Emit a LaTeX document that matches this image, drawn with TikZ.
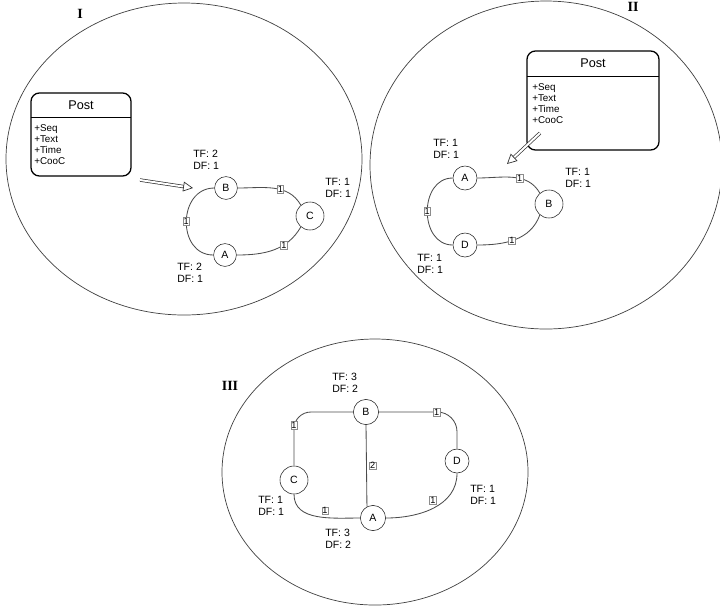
\documentclass[tikz,border=0pt]{standalone}
\usepackage{fontspec}
\setmainfont{Liberation Sans}
\newfontfamily\numfont{Liberation Serif}
\usetikzlibrary{arrows.meta}

\tikzstyle{ring}=[draw=black!75,line width=0.5pt]
\tikzstyle{numeral}=[font=\numfont\bfseries\fontsize{10}{12}\selectfont]
\tikzstyle{vert}=[circle,draw=black!85,fill=white,inner sep=0pt,minimum size=0.6cm,font=\fontsize{7.5}{9}\selectfont]
\tikzstyle{bigvert}=[vert,minimum size=0.7cm]
\tikzstyle{link}=[draw=black!70,line width=0.6pt]
\tikzstyle{wt}=[sharp corners,draw=black!45,fill=white,inner sep=0.5pt,line width=0.3pt,font=\fontsize{6.5}{6.5}\selectfont]
\tikzstyle{freq}=[anchor=west,align=left,inner sep=0pt,font=\fontsize{7.5}{8.6}\selectfont]
\tikzstyle{postbox}=[draw=black,line width=0.9pt,rounded corners=6pt]
\tikzstyle{posthead}=[inner sep=0pt,font=\fontsize{9}{11}\selectfont]
\tikzstyle{attrs}=[anchor=north west,align=left,inner sep=0pt,font=\fontsize{7}{8}\selectfont]
\tikzstyle{hollow}=[draw=black!80,line width=0.5pt,double=white,double distance=1.4pt,-{Triangle[open,length=7pt,width=7pt]}]

\begin{document}
\begin{tikzpicture}[x=0.025cm,y=-0.025cm]
	\useasboundingbox (0,0) rectangle (720,608);

	% the three snapshots
	\draw[ring] (184,159) ellipse [x radius=178,y radius=156];
	\draw[ring] (546,165) ellipse [x radius=176,y radius=164];
	\draw[ring] (375,472) ellipse [x radius=153,y radius=133];
	\node (n1) at (80,14) [numeral] {I};
	\node (n2) at (633,7) [numeral] {II};
	\node (n3) at (230,386) [numeral] {III};

	% snapshot I
	\node (post1) at (81,134.5) [postbox,minimum width=2.5cm,minimum height=2.075cm] {};
	\node (head1) at (81,105) [posthead,minimum width=2.5cm,minimum height=0.6cm] {Post};
	\draw[line width=0.6pt] (head1.south west) -- (head1.south east);
	\node (attr1) at (34,124) [attrs] {+Seq\\+Text\\+Time\\+CooC};
	\coordinate (t1) at (140,180);
	\coordinate (h1) at (193,188);
	\draw[hollow] (t1) -- (h1);

	\node (B1) at (226,188) [vert,minimum size=0.57cm] {B};
	\node (C1) at (310,216) [bigvert] {C};
	\node (A1) at (225,255) [vert,minimum size=0.57cm] {A};
	\draw[link] (B1.east) to[out=0,in=120] node[wt,pos=0.6] {1} (C1.130);
	\draw[link] (A1.east) to[out=0,in=-120] node[wt,pos=0.66] {1} (C1.-130);
	\draw[link] (B1.west) to[out=180,in=180,looseness=1.4] node[wt] {1} (A1.west);
	\node (fB1) at (193,160) [freq] {TF: 2\\DF: 1};
	\node (fA1) at (177,273) [freq] {TF: 2\\DF: 1};
	\node (fC1) at (325,188) [freq] {TF: 1\\DF: 1};

	% snapshot II
	\node (post2) at (593,100.5) [postbox,minimum width=3.3cm,minimum height=2.475cm] {};
	\node (head2) at (593,63.5) [posthead,minimum width=3.3cm,minimum height=0.625cm] {Post};
	\draw[line width=0.6pt] (head2.south west) -- (head2.south east);
	\node (attr2) at (532,83) [attrs] {+Seq\\+Text\\+Time\\+CooC};
	\coordinate (t2) at (540,133);
	\coordinate (h2) at (507,164);
	\draw[hollow] (t2) -- (h2);

	\node (A2) at (465,178) [vert] {A};
	\node (B2) at (549,204) [bigvert] {B};
	\node (D2) at (465,245) [vert] {D};
	\draw[link] (A2.east) to[out=0,in=120] node[wt,pos=0.6] {1} (B2.130);
	\draw[link] (D2.east) to[out=0,in=-110] node[wt,pos=0.45] {1} (B2.-130);
	\draw[link] (A2.west) to[out=180,in=180,looseness=1.3] node[wt] {1} (D2.west);
	\node (fA2) at (433,149) [freq] {TF: 1\\DF: 1};
	\node (fB2) at (565,178) [freq] {TF: 1\\DF: 1};
	\node (fD2) at (417,264) [freq] {TF: 1\\DF: 1};

	% snapshot III
	\node (B3) at (366,412) [vert,minimum size=0.63cm] {B};
	\node (D3) at (457,461) [vert] {D};
	\node (C3) at (294,480) [bigvert] {C};
	\node (A3) at (373,518) [vert,minimum size=0.63cm] {A};
	\draw[link,rounded corners=12pt] (C3.north) |- node[wt,pos=0.38] {1} (B3.west);
	\draw[link,rounded corners=14pt] (B3.east) -| node[wt,pos=0.37] {1} (D3.north);
	\draw[link] (B3.south) -- node[wt,right=2pt] {2} (A3.118);
	\draw[link] (C3.south) to[out=-90,in=180] node[wt,pos=0.6,above=2pt] {1} (A3.west);
	\draw[link] (A3.east) to[out=0,in=-90] node[wt,pos=0.55,above left=1pt] {1} (D3.south);
	\node (fB3) at (332,383) [freq] {TF: 3\\DF: 2};
	\node (fC3) at (258,506) [freq] {TF: 1\\DF: 1};
	\node (fA3) at (325,539) [freq] {TF: 3\\DF: 2};
	\node (fD3) at (470,495) [freq] {TF: 1\\DF: 1};
\end{tikzpicture}
\end{document}
